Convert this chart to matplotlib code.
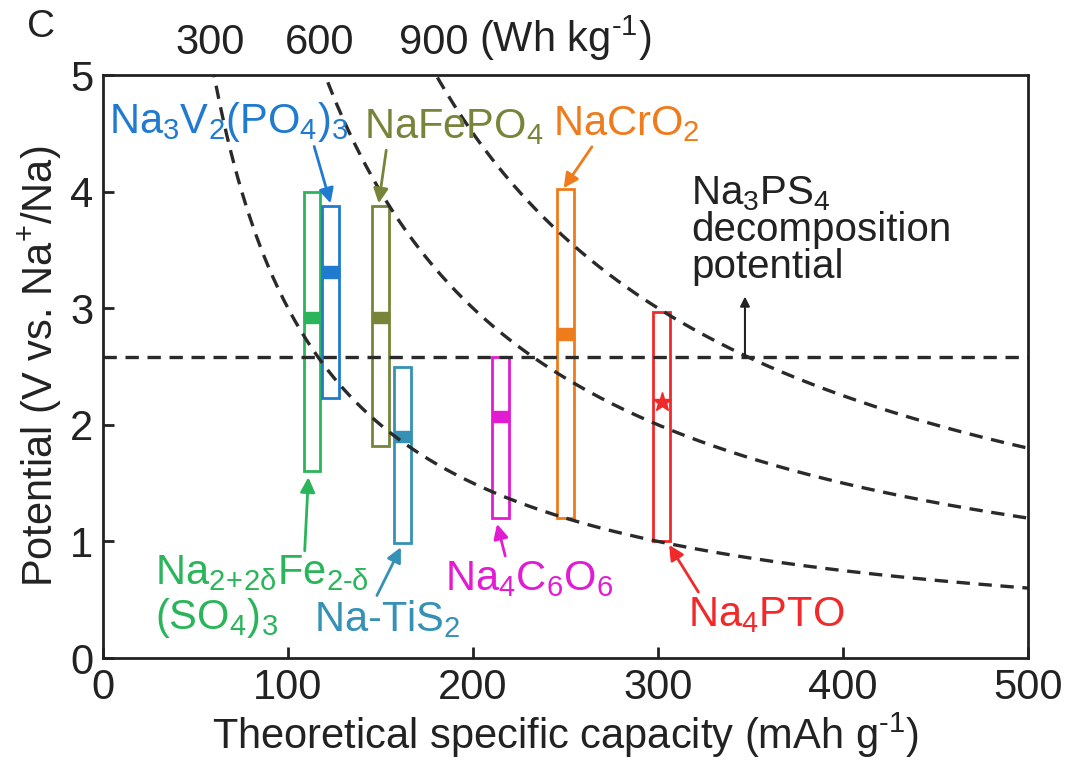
import matplotlib.pyplot as plt
import numpy as np

plt.rcParams['font.family'] = ['Liberation Sans', 'DejaVu Sans']
plt.rcParams['mathtext.fontset'] = 'custom'
plt.rcParams['mathtext.rm'] = 'Liberation Sans'
plt.rcParams['mathtext.it'] = 'Liberation Sans'

# materials: capacity (mAh/g), voltage window and average voltage
names = [r'$\mathregular{Na_{2\!+\!2δ}Fe_{2‐δ}}$' + '\n' + r'$\mathregular{(SO_4)_3}$',
         r'$\mathregular{Na_3V_2(PO_4)_3}$',
         r'$\mathregular{NaFePO_4}$',
         r'Na-Ti$\mathregular{S_2}$',
         r'$\mathregular{Na_4C_6O_6}$',
         r'$\mathregular{NaCrO_2}$',
         r'$\mathregular{Na_4PTO}$']
capacity = [113, 123, 150, 162, 215, 250, 302]
v_low = [1.6, 2.23, 1.82, 0.99, 1.2, 1.2, 1.0]
v_high = [4.0, 3.88, 3.88, 2.5, 2.58, 4.02, 2.97]
v_avg = [2.92, 3.31, 2.92, 1.9, 2.07, 2.78, 2.2]
colors = ['#2bb55a', '#1f7ad0', '#76853a', '#3591b5', '#e21cd2', '#ef7c1c', '#f02a2a']

energy_lines = [300, 600, 900]   # Wh/kg
decomp_v = 2.58

fig = plt.figure(figsize=(10.89, 7.64), dpi=100)
ax = fig.add_axes([0.0946, 0.1387, 0.8494, 0.7631])

cap = np.linspace(1, 500, 500)
for e in energy_lines:
    ax.plot(cap, e / cap, ls=(0, (4, 2.6)), color='#2a2a2a', lw=2.4)
ax.axhline(decomp_v, ls=(0, (4, 2.6)), color='#2a2a2a', lw=2.4)

w = 9
for c, lo, hi, av, col in zip(capacity, v_low, v_high, v_avg, colors):
    ax.add_patch(plt.Rectangle((c - w / 2, lo), w, hi - lo, fill=False, ec=col, lw=2))
for c, av, col in zip(capacity[:-1], v_avg[:-1], colors[:-1]):
    ax.add_patch(plt.Rectangle((c - w / 2, av - 0.05), w, 0.1, color=col))
ax.plot(capacity[-1], v_avg[-1], marker='*', color=colors[-1], ms=14)

fs = 30
ap = dict(arrowstyle='-|>', lw=2, mutation_scale=22, shrinkA=0, shrinkB=0)
line1, line2 = names[0].split('\n')
ax.annotate(line1, xy=(111, 1.55), xytext=(28, 0.63), color=colors[0], fontsize=fs,
            ha='left', va='baseline',
            arrowprops=dict(ap, color=colors[0], relpos=(0.7, 1.0)))
ax.text(28, 0.25, line2, color=colors[0], fontsize=fs, ha='left', va='baseline')
ax.annotate(names[1], xy=(123, 3.9), xytext=(3, 4.6), color=colors[1], fontsize=fs,
            ha='left', va='center',
            arrowprops=dict(ap, color=colors[1], relpos=(0.85, 0.1)))
ax.annotate(names[2], xy=(149, 3.9), xytext=(141, 4.55), color=colors[2], fontsize=fs,
            ha='left', va='center',
            arrowprops=dict(ap, color=colors[2], relpos=(0.13, 0.1)))
ax.annotate(names[3], xy=(161, 0.95), xytext=(114, 0.23), color=colors[3], fontsize=fs,
            ha='left', va='baseline',
            arrowprops=dict(ap, color=colors[3], relpos=(0.42, 1.0)))
ax.annotate(names[4], xy=(213, 1.15), xytext=(185, 0.68), color=colors[4], fontsize=fs,
            ha='left', va='center',
            arrowprops=dict(ap, color=colors[4], relpos=(0.36, 1.0)))
ax.annotate(names[5], xy=(249, 4.03), xytext=(243, 4.58), color=colors[5], fontsize=fs,
            ha='left', va='center',
            arrowprops=dict(ap, color=colors[5], relpos=(0.3, 0.1)))
ax.annotate(names[6], xy=(306, 0.97), xytext=(316, 0.37), color=colors[6], fontsize=fs,
            ha='left', va='center',
            arrowprops=dict(ap, color=colors[6], relpos=(0.08, 1.0)))

ax.text(318, 3.67, r'$\mathregular{Na_3PS_4}$' + '\ndecomposition\npotential', color='#222222',
        fontsize=29, ha='left', va='center', linespacing=0.95)
ax.annotate('', xy=(347, 3.1), xytext=(347, decomp_v),
            arrowprops=dict(arrowstyle='-|>', lw=1.5, color='#222222', mutation_scale=14,
                            shrinkA=0, shrinkB=0))

# energy density labels above the frame
for e, x in zip(energy_lines, [58, 117, 179]):
    ax.text(x, 5.1, str(e), fontsize=fs, ha='center', va='bottom', color='#222222')
ax.text(203, 5.1, r'(Wh kg$^{\mathregular{‐1}}$)', fontsize=fs, ha='left', va='bottom', color='#222222')
fig.text(0.025, 0.965, 'C', fontsize=28, color='#222222', ha='left', va='center')

ax.set_xlim(0, 500)
ax.set_ylim(0, 5)
ax.set_xticks([0, 100, 200, 300, 400, 500])
ax.set_yticks([0, 1, 2, 3, 4, 5])
ax.tick_params(direction='in', length=8, width=2, labelsize=fs, colors='#222222', pad=7)
for s in ax.spines.values():
    s.set_linewidth(2)
    s.set_color('#222222')
ax.set_xlabel(r'Theoretical specific capacity (mAh g$^{\mathregular{‐1}}$)', fontsize=fs,
              color='#222222', labelpad=2)
ax.set_ylabel(r'Potential (V vs. Na$^{\mathregular{+}}$/Na)', fontsize=fs, color='#222222', labelpad=4)

fig.savefig('out.png', dpi=100)
